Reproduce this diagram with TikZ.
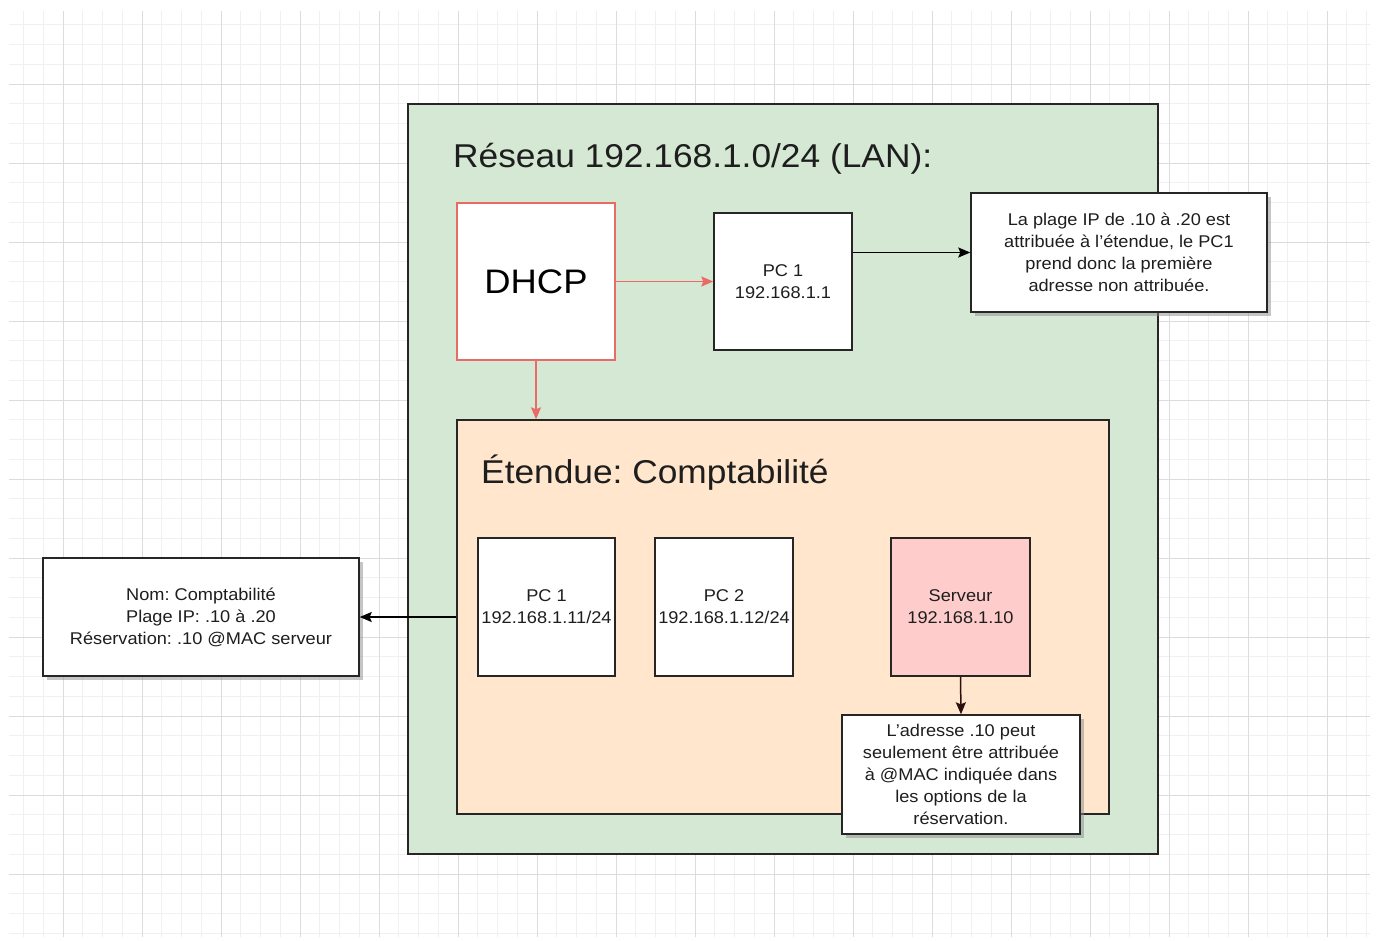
\documentclass[tikz,border=0pt]{standalone}
\usepackage{fontspec}
\setmainfont[FakeStretch=1.07]{Liberation Sans}
\usetikzlibrary{arrows.meta, positioning, shadows}
\definecolor{lanGreen}   {HTML}{D5E8D4}
\definecolor{scopeOrange}{HTML}{FFE6CC}
\definecolor{srvPink}    {HTML}{FFCCCC}
\definecolor{dhcpRed}    {HTML}{EA6B66}
\definecolor{txtGray}    {HTML}{1E1E1E}
\definecolor{gridMinor}  {HTML}{F0F0F0}
\definecolor{gridMajor}  {HTML}{DCDCDC}
\definecolor{darkBrown}  {HTML}{2B1010}
\frenchspacing

\begin{document}
\begin{tikzpicture}[x=1pt, y=-1pt,
    box/.style={draw=black!85, line width=1.4pt, fill=white, inner sep=0pt, align=center,
      font=\fontsize{17}{22}\selectfont, text=txtGray},
    note/.style={box, drop shadow={shadow xshift=4pt, shadow yshift=-4pt, fill=black!45, opacity=0.5}},
    area/.style={draw=black!85, line width=1.4pt, inner sep=0pt},
    heading/.style={anchor=base west, inner sep=0pt, text=txtGray, font=\fontsize{33}{38}\selectfont},
    link/.style={line width=1.5pt, -{Stealth[length=12pt, width=10pt, inset=2pt]}}
  ]
    \useasboundingbox (0,0) rectangle (1376,940);
    \fill[white] (0,0) rectangle (1376,940);

    % Grid
    \begin{scope}
      \clip (9,11) rectangle (1370,937);
      \foreach \k in {-3,...,67}
        \draw[gridMinor, line width=0.8pt] ({63+19.75*\k},11) -- ({63+19.75*\k},937);
      \foreach \k in {-4,...,44}
        \draw[gridMinor, line width=0.8pt] (9,{84+19.75*\k}) -- (1370,{84+19.75*\k});
      \foreach \k in {-1,...,17}
        \draw[gridMajor, line width=1pt] ({63+79*\k},11) -- ({63+79*\k},937);
      \foreach \k in {-1,...,11}
        \draw[gridMajor, line width=1pt] (9,{84+79*\k}) -- (1370,{84+79*\k});
    \end{scope}

    % LAN
    \node[area, fill=lanGreen, minimum width=750pt, minimum height=750pt] (lan) at (783,479) {};
    \node[heading] (lanTitle) at (453,167) {Réseau 192.168.1.0/24 (LAN):};

    \node[box, draw=dhcpRed, minimum width=158pt, minimum height=157pt,
      font=\fontsize{34}{40}\selectfont, text=black] (dhcp) at (536,281.5) {DHCP};
    \node[box, minimum width=138pt, minimum height=137pt] (pcLan) at (783,281.5) {PC 1\\192.168.1.1};
    \node[note, minimum width=296pt, minimum height=119pt] (noteLan) at (1119,252.5)
      {La plage IP de .10 à .20 est\\attribuée à l'étendue, le PC1\\prend donc la première\\adresse non attribuée.};

    % Scope
    \node[area, fill=scopeOrange, minimum width=652pt, minimum height=394pt] (scope) at (783,617) {};
    \node[heading] (scopeTitle) at (481,483) {Étendue: Comptabilité};

    \node[box, minimum width=137pt, minimum height=138pt] (pcOne) at (546.5,607) {PC 1\\192.168.1.11/24};
    \node[box, minimum width=138pt, minimum height=138pt] (pcTwo) at (724,607) {PC 2\\192.168.1.12/24};
    \node[box, fill=srvPink, minimum width=139pt, minimum height=138pt] (srv) at (960.5,607) {Serveur\\192.168.1.10};
    \node[note, minimum width=238pt, minimum height=119pt] (noteSrv) at (961,774.5)
      {L'adresse .10 peut\\seulement être attribuée\\à @MAC indiquée dans\\les options de la\\réservation.};

    \node[note, minimum width=316pt, minimum height=118pt] (noteScope) at (201,617)
      {Nom: Comptabilité\\Plage IP: .10 à .20\\Réservation: .10 @MAC serveur};

    % Arrows
    \draw[link, dhcpRed] (dhcp.east) -- (pcLan.west);
    \draw[link, dhcpRed] (dhcp.south) -- (dhcp.south |- scope.north);
    \draw[link] (pcLan.east |- noteLan.west) -- (noteLan.west);
    \draw[link] (scope.west) -- (noteScope.east);
    \draw[link, darkBrown] (srv.south) -- (noteSrv.north);
  \end{tikzpicture}
\end{document}
